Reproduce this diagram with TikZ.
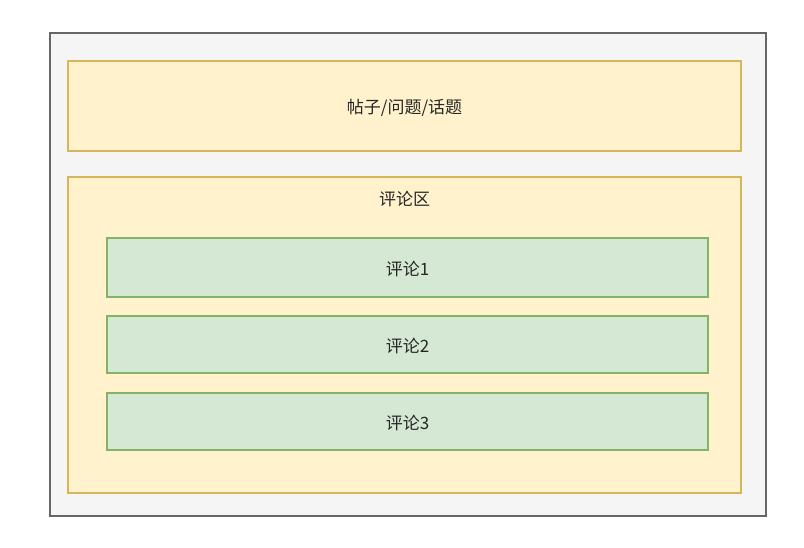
\documentclass[tikz,border=0pt]{standalone}
\usepackage{fontspec}
\setmainfont{Noto Sans CJK SC}
\definecolor{grayfill}{HTML}{F5F5F5}
\definecolor{graydraw}{HTML}{666666}
\definecolor{yfill}{HTML}{FFF2CC}
\definecolor{ydraw}{HTML}{D6B656}
\definecolor{gfill}{HTML}{D5E8D4}
\definecolor{gdraw}{HTML}{82B366}
\begin{document}
\begin{tikzpicture}[x=1pt,y=-1pt,
  outerbox/.style={draw=graydraw,fill=grayfill,line width=1.5pt},
  ybox/.style={draw=ydraw,fill=yfill,line width=1.3pt},
  gbox/.style={draw=gdraw,fill=gfill,line width=1.3pt},
  lbl/.style={font=\fontsize{17}{20}\selectfont,text=black!85}]
\useasboundingbox (0,0) rectangle (804,548);
\draw[outerbox] (50,33) rectangle (766,516);
\draw[ybox] (68,61) rectangle (741,151);
\node[lbl] (post) at (404.5,108) {帖子/问题/话题};
\draw[ybox] (68,177) rectangle (741,493);
\node[lbl] (area) at (404.5,199.5) {评论区};
\draw[gbox] (107,238) rectangle (708,297);
\node[lbl] (c1) at (407.5,269.5) {评论1};
\draw[gbox] (107,316) rectangle (708,373);
\node[lbl] (c2) at (407.5,346.5) {评论2};
\draw[gbox] (107,393) rectangle (708,450);
\node[lbl] (c3) at (407.5,423.5) {评论3};
\end{tikzpicture}
\end{document}
